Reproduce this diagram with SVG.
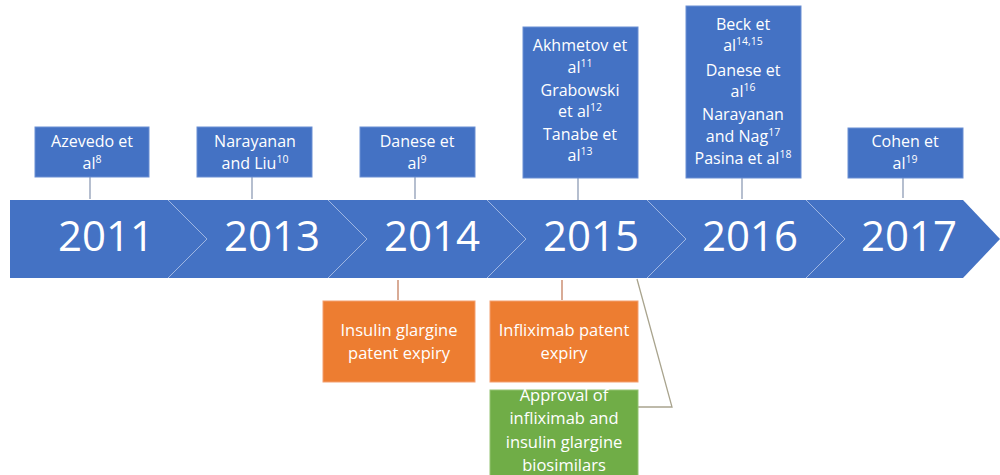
<svg xmlns="http://www.w3.org/2000/svg" width="1000" height="475" viewBox="0 0 1000 475">
<style>
.bg{fill:#ffffff}
.blue{fill:#4472c4}
.box{fill:#4472c4;stroke:#6b8fd3;stroke-width:1}
.obox{fill:#ed7d31;stroke:#f3a070;stroke-width:1}
.gbox{fill:#70ad47;stroke:#93c373;stroke-width:1}
.sep{fill:none;stroke:#9fb6e2;stroke-width:1}
.conn{fill:none;stroke:#8e9cb5;stroke-width:1.3}
.oconn{fill:none;stroke:#c47e5e;stroke-width:1.3}
.gconn{fill:none;stroke:#a9a48e;stroke-width:1.3}
.yr{font-family:"Open Sans",sans-serif;font-size:42px;fill:#ffffff;text-anchor:middle}
.t{font-family:"Open Sans",sans-serif;font-size:16px;fill:#ffffff;text-anchor:middle}
.tb{font-family:"Open Sans",sans-serif;font-size:16.5px;fill:#ffffff;text-anchor:middle}
.s{font-size:10.5px}
</style>
<rect class="bg" x="0" y="0" width="1000" height="475"/>
<g id="timeline">
<polygon class="blue" points="10,200 963,200 1000,239 963,278 10,278"/>
<polyline class="sep" points="168,200 207,239 168,278"/>
<polyline class="sep" points="328,200 367,239 328,278"/>
<polyline class="sep" points="487,200 526,239 487,278"/>
<polyline class="sep" points="647,200 686,239 647,278"/>
<polyline class="sep" points="806,200 845,239 806,278"/>
<text class="yr" x="106" y="251">2011</text>
<text class="yr" x="272" y="251">2013</text>
<text class="yr" x="432" y="251">2014</text>
<text class="yr" x="591" y="251">2015</text>
<text class="yr" x="750" y="251">2016</text>
<text class="yr" x="909" y="251">2017</text>
</g>
<g id="connectors">
<line class="conn" x1="90" y1="177" x2="90" y2="199"/>
<line class="conn" x1="252" y1="177" x2="252" y2="199"/>
<line class="conn" x1="415" y1="177" x2="415" y2="199"/>
<line class="conn" x1="578" y1="178" x2="578" y2="200"/>
<line class="conn" x1="742" y1="178" x2="742" y2="199"/>
<line class="conn" x1="903" y1="178" x2="903" y2="198"/>
<line class="oconn" x1="398" y1="280" x2="398" y2="300"/>
<line class="oconn" x1="562" y1="280" x2="562" y2="300"/>
<polyline class="gconn" points="637,279 672,407 638,407"/>
</g>
<g id="azevedo">
<rect class="box" x="35" y="127" width="114" height="50"/>
<text class="t" x="92" y="147">Azevedo et</text>
<text class="t" x="92" y="169">al<tspan class="s" dy="-6">8</tspan></text>
</g>
<g id="narayanan-liu">
<rect class="box" x="197" y="127" width="115" height="50"/>
<text class="t" x="255" y="147">Narayanan</text>
<text class="t" x="255" y="169">and Liu<tspan class="s" dy="-6">10</tspan></text>
</g>
<g id="danese9">
<rect class="box" x="360" y="127" width="115" height="50"/>
<text class="t" x="417" y="147">Danese et</text>
<text class="t" x="417" y="169">al<tspan class="s" dy="-6">9</tspan></text>
</g>
<g id="akhmetov">
<rect class="box" x="523" y="27" width="115" height="151"/>
<text class="t" x="580" y="51">Akhmetov et</text>
<text class="t" x="580" y="73">al<tspan class="s" dy="-6">11</tspan></text>
<text class="t" x="580" y="96">Grabowski</text>
<text class="t" x="580" y="117">et al<tspan class="s" dy="-6">12</tspan></text>
<text class="t" x="580" y="140">Tanabe et</text>
<text class="t" x="580" y="161">al<tspan class="s" dy="-6">13</tspan></text>
</g>
<g id="beck">
<rect class="box" x="686" y="6" width="115" height="172"/>
<text class="t" x="743" y="30">Beck et</text>
<text class="t" x="743" y="51">al<tspan class="s" dy="-6">14,15</tspan></text>
<text class="t" x="743" y="76">Danese et</text>
<text class="t" x="743" y="97">al<tspan class="s" dy="-6">16</tspan></text>
<text class="t" x="743" y="120">Narayanan</text>
<text class="t" x="743" y="142">and Nag<tspan class="s" dy="-6">17</tspan></text>
<text class="t" x="743" y="164">Pasina et al<tspan class="s" dy="-6">18</tspan></text>
</g>
<g id="cohen">
<rect class="box" x="848" y="128" width="115" height="50"/>
<text class="t" x="905" y="147">Cohen et</text>
<text class="t" x="905" y="169">al<tspan class="s" dy="-6">19</tspan></text>
</g>
<g id="insulin-expiry">
<rect class="obox" x="323" y="301" width="152" height="81"/>
<text class="tb" x="399" y="336">Insulin glargine</text>
<text class="tb" x="399" y="359">patent expiry</text>
</g>
<g id="infliximab-expiry">
<rect class="obox" x="490" y="301" width="148" height="81"/>
<text class="tb" x="564" y="336">Infliximab patent</text>
<text class="tb" x="564" y="359">expiry</text>
</g>
<g id="approval">
<rect class="gbox" x="490" y="390" width="148" height="86"/>
<text class="tb" x="564" y="401">Approval of</text>
<text class="tb" x="564" y="424">infliximab and</text>
<text class="tb" x="564" y="448">insulin glargine</text>
<text class="tb" x="564" y="471">biosimilars</text>
</g>
</svg>
